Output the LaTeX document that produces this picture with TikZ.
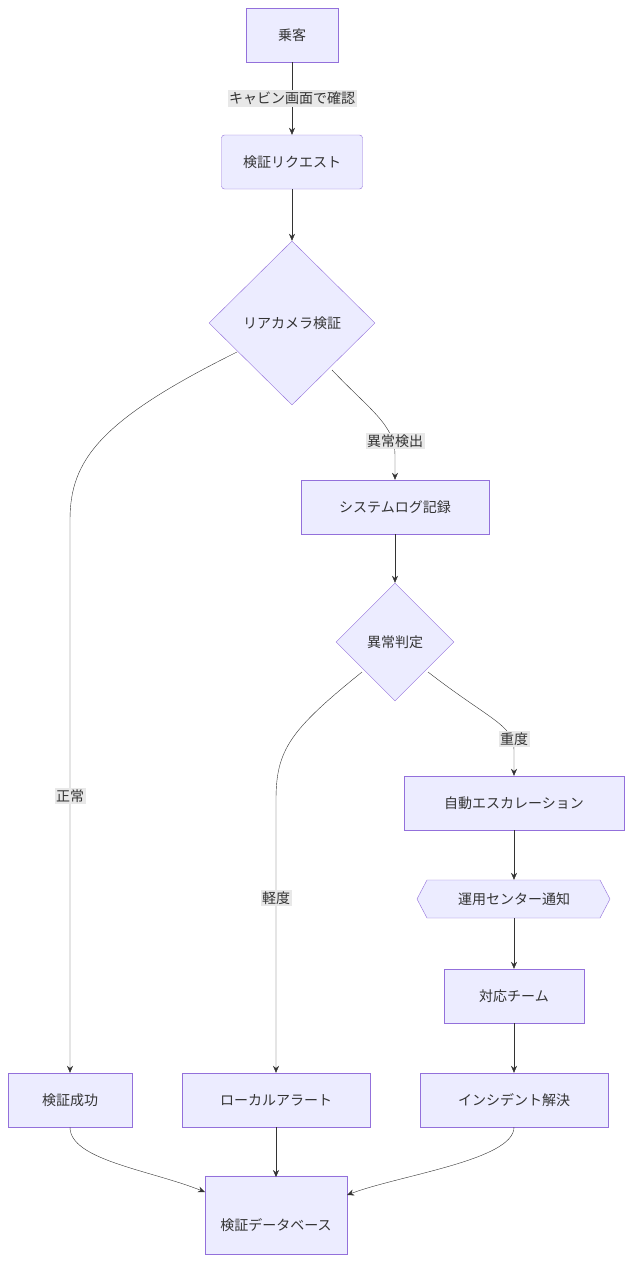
\documentclass[tikz,border=0pt]{standalone}
\usepackage{fontspec}
\setmainfont{Noto Sans CJK JP}
\usetikzlibrary{shapes.geometric,arrows.meta}
\definecolor{nf}{HTML}{ECECFF}
\definecolor{ns}{HTML}{9370DB}
\definecolor{ln}{HTML}{333333}
\definecolor{lb}{HTML}{E8E8E8}
\begin{document}
\begin{tikzpicture}[x=1pt,y=-1pt,
  every node/.style={font=\fontsize{14}{16}\selectfont,text=ln},
  box/.style={draw=ns,fill=nf,rectangle,minimum height=54pt,inner sep=0pt},
  dia/.style={draw=ns,fill=nf,diamond,inner sep=0pt,aspect=1},
  lab/.style={fill=lb,inner sep=1.5pt},
  e/.style={draw=ln,-{Stealth[length=7pt,width=6pt]}}]
\useasboundingbox[fill=white] (0,0) rectangle (632,1264);
\node[box,minimum width=92pt] (p) at (292,35) {乗客};
\node[box,minimum width=141pt,rounded corners=3pt] (r) at (292,162) {検証リクエスト};
\node[dia,minimum width=166pt,minimum height=164pt] (c) at (292,323) {リアカメラ検証};
\node[box,minimum width=188pt] (s) at (395,507) {システムログ記録};
\node[dia,minimum width=118pt,minimum height=118pt] (j) at (395,642) {異常判定};
\node[box,minimum width=220pt] (a) at (514,803) {自動エスカレーション};
\draw[ns,fill=nf] (417,899) -- (427,880) -- (600,880) -- (610,899) -- (600,918) -- (427,918) -- cycle;
\node[minimum width=193pt,minimum height=38pt,inner sep=0pt] (o) at (514,899) {運用センター通知};
\node[box,minimum width=140pt] (t) at (514,996) {対応チーム};
\node[box,minimum width=124pt] (ok) at (70,1100) {検証成功};
\node[box,minimum width=188pt] (la) at (276,1100) {ローカルアラート};
\node[box,minimum width=188pt] (ir) at (514,1100) {インシデント解決};
\node[draw=ns,fill=nf,cylinder,shape border rotate=90,aspect=0.18,minimum width=142pt,minimum height=78pt,inner sep=0pt] (db) at (276,1215) {};
\node at (276,1225) {検証データベース};
\draw[e] (p) -- node[lab] {キャビン画面で確認} (r);
\draw[e] (r) -- (c);
\draw[e] (237,352) .. controls (100,420) and (70,460) .. (70,520) -- node[lab,pos=0.5] {正常} (ok.north);
\draw[e] (332,370) .. controls (370,410) and (395,425) .. (395,455) -- (s.north);
\node[lab] at (395,441) {異常検出};
\draw[e] (s) -- (j);
\draw[e] (362,672) .. controls (290,730) and (276,750) .. (276,800) -- node[lab,pos=0.36] {軽度} (la.north);
\draw[e] (428,672) .. controls (490,720) and (514,725) .. (514,750) -- (a.north);
\node[lab] at (514,739) {重度};
\draw[e] (a) -- (o);
\draw[e] (o) -- (t);
\draw[e] (t) -- (ir);
\draw[e] (ok.south) .. controls (70,1160) and (150,1170) .. (205,1192);
\draw[e] (la.south) -- (276,1177);
\draw[e] (ir.south) .. controls (514,1160) and (400,1175) .. (347,1195);
\end{tikzpicture}
\end{document}
